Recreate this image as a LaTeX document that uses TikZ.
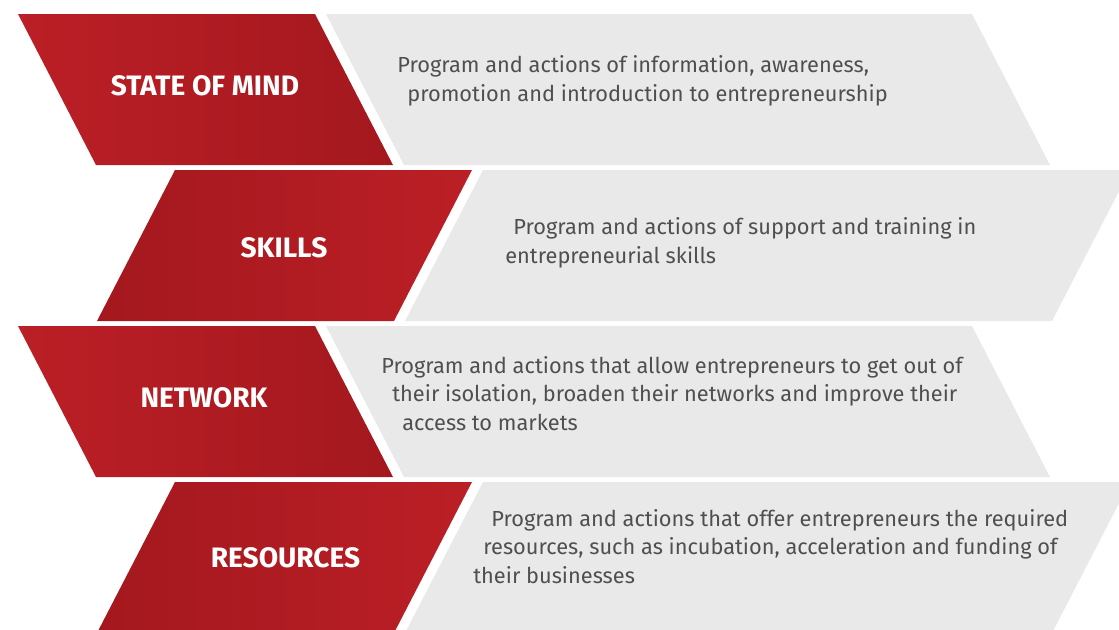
\documentclass[tikz,border=0pt]{standalone}
\usepackage{fontspec}
\setmainfont{Fira Sans}
\usetikzlibrary{positioning}
\definecolor{redlight}{HTML}{BC1F26}
\definecolor{reddark}{HTML}{A3181E}
\definecolor{panelgrey}{HTML}{E9E9E9}
\definecolor{textgrey}{HTML}{4F4F4F}
\tikzset{title/.style={text=white,font=\bfseries\fontsize{16}{19}\selectfont,}}
\tikzset{body/.style={text=textgrey,align=left,inner sep=0pt,anchor=base west,font=\fontsize{12.4}{16.2}\selectfont,}}
\tikzset{panel/.style={fill=panelgrey}}
\tikzset{bar down/.style={left color=redlight, right color=reddark}}
\tikzset{bar up/.style={left color=reddark, right color=redlight}}

\begin{document}
\begin{tikzpicture}[x=0.02cm,y=-0.02cm]
\useasboundingbox (0,0) rectangle (1119,629);
\clip (0,0) rectangle (1119,629);

% state of mind
\shade[bar down] (18,14) -- (315,14) -- (393,165) -- (96,165) -- cycle;
\fill[panel] (326,14) -- (972,14) -- (1050,165) -- (404,165) -- cycle;
% skills
\shade[bar up] (175,170) -- (472,170) -- (394,321) -- (97,321) -- cycle;
\fill[panel] (483,170) -- (1130,170) -- (1052,321) -- (405,321) -- cycle;
% network
\shade[bar down] (18,326) -- (315,326) -- (393,477) -- (96,477) -- cycle;
\fill[panel] (326,326) -- (972,326) -- (1050,477) -- (404,477) -- cycle;
% resources
\shade[bar up] (175,482) -- (472,482) -- (394,633) -- (97,633) -- cycle;
\fill[panel] (483,482) -- (1130,482) -- (1052,633) -- (405,633) -- cycle;

\node[title](mind) at(205,86) {STATE OF MIND};
\node[title](skills) at(284,247.5) {SKILLS};
\node[title](network) at(204,398) {NETWORK};
\node[title](resources) at(285.5,558) {RESOURCES};

% base anchor sits on the last line
\node[body](mindtext) at(397,101) {Program and actions of information, awareness,\\
  \hspace*{0.2cm}promotion and introduction to entrepreneurship};
\node[body](skillstext) at(505,263) {\hspace*{0.16cm}Program and actions of support and training in\\
  entrepreneurial skills};
\node[body](networktext) at(381,430) {Program and actions that allow entrepreneurs to get out of\\
  \hspace*{0.22cm}their isolation, broaden their networks and improve their\\
  \hspace*{0.42cm}access to markets};
\node[body](resourcestext) at(473,583) {\hspace*{0.36cm}Program and actions that offer entrepreneurs the required\\
  \hspace*{0.2cm}resources, such as incubation, acceleration and funding of\\
  their businesses};

\end{tikzpicture}
\end{document}
